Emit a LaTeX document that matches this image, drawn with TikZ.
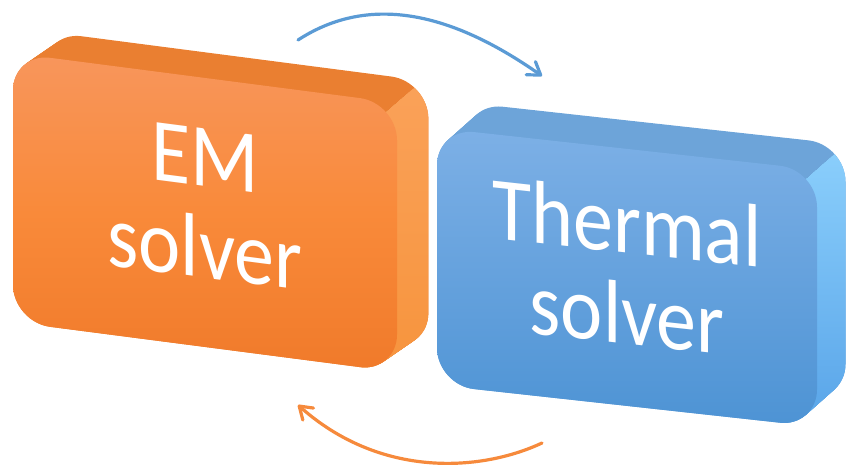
\documentclass[tikz,border=0pt]{standalone}
\usepackage{fontspec}
\setmainfont{Carlito}
\usetikzlibrary{arrows.meta}

\definecolor{emFrontTop}{HTML}{F8965C}
\definecolor{emFrontMid}{HTML}{F98A3A}
\definecolor{emFrontBot}{HTML}{F07A2A}
\definecolor{emTopFace}{HTML}{EA7F31}
\definecolor{emSideTop}{HTML}{FBA45E}
\definecolor{emSideBot}{HTML}{F7953F}
\definecolor{thFrontTop}{HTML}{7DB0E6}
\definecolor{thFrontBot}{HTML}{4D93D4}
\definecolor{thTopFace}{HTML}{6DA4D9}
\definecolor{thSideTop}{HTML}{93D6FF}
\definecolor{thSideBot}{HTML}{5DA8EA}
\definecolor{loopBlue}{HTML}{5B9BD5}
\definecolor{loopOrange}{HTML}{F68A3C}

\tikzset{every picture/.style={line width=0.75pt},
  solvertext/.style={text=white,font=\fontsize{60}{61}\selectfont,align=center,inner sep=0pt,transform shape,yscale=-1.12},
  looparrow/.style={line width=2.4pt,line cap=round,-{Straight Barb[length=9pt,width=12pt,round]}}}

\begin{document}
\begin{tikzpicture}[x=0.75pt,y=0.75pt,yscale=-1,xscale=1]
    \useasboundingbox (0,0) rectangle (847,467);
    %EM solver box
    \begin{scope}[shift={(13,53)},yslant=0.13]
      %Depth [top face]
      \foreach \k in {0,0.05,...,1.0}
        \fill[emTopFace,rounded corners=28pt] (33*\k,-27*\k) rectangle +(384,269);
      %Depth [right face]
      \begin{scope}
        \clip (347,37) -- (435,-51) -- (480,-51) -- (480,330) -- (347,330) -- cycle;
        \foreach \k in {0,0.05,...,1.0}
          \shade[top color=emSideTop,bottom color=emSideBot,rounded corners=28pt] (33*\k,-27*\k) rectangle +(384,269);
      \end{scope}
      %Front face
      \shade[top color=emFrontTop,bottom color=emFrontBot,middle color=emFrontMid,rounded corners=28pt] (0,0) rectangle (384,269);
      \node[solvertext] (em) at (192,126) {EM\\solver};
    \end{scope}
    %Thermal solver box
    \begin{scope}[shift={(437,128)},yslant=0.11]
      %Depth [top face]
      \foreach \k in {0,0.05,...,1.0}
        \fill[thTopFace,rounded corners=28pt] (30*\k,-30*\k) rectangle +(380,257);
      %Depth [right face]
      \begin{scope}
        \clip (343,37) -- (431,-51) -- (480,-51) -- (480,320) -- (343,320) -- cycle;
        \foreach \k in {0,0.05,...,1.0}
          \shade[top color=thSideTop,bottom color=thSideBot,rounded corners=28pt] (30*\k,-30*\k) rectangle +(380,257);
      \end{scope}
      %Front face
      \shade[top color=thFrontTop,bottom color=thFrontBot,rounded corners=28pt] (0,0) rectangle (380,257);
      \node[solvertext] (thermal) at (190,119) {Thermal\\solver};
    \end{scope}
    %Curve Lines [em to thermal]
    \coordinate (topStart) at (298,40);
    \coordinate (topEnd) at (542,76);
    \draw[looparrow,loopBlue] (topStart) .. controls (378,-12) and (465,22) .. (topEnd);
    %Curve Lines [thermal to em]
    \coordinate (botStart) at (542,443);
    \coordinate (botEnd) at (298,405);
    \draw[looparrow,loopOrange] (botStart) .. controls (480,472) and (380,478) .. (botEnd);
\end{tikzpicture}
\end{document}
